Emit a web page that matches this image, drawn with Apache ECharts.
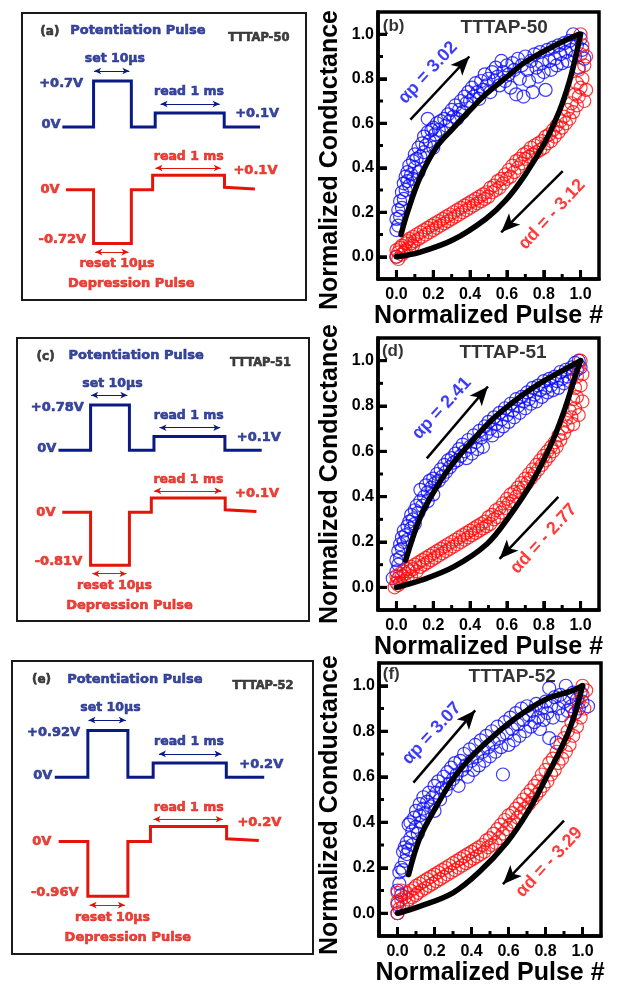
<!DOCTYPE html>
<html><head><meta charset="utf-8">
<script src="https://cdn.jsdelivr.net/npm/echarts@6/dist/echarts.min.js"></script>
<style>html,body{margin:0;padding:0;background:#fff}#c{width:623px;height:987px}</style>
</head><body><div id="c"></div>
<script>
// ---------- tick values ----------
const xTicks=[0,0.2,0.4,0.6,0.8,1.0];
const xMinor=[0.1,0.3,0.5,0.7,0.9];
const yTicks=[0,0.2,0.4,0.6,0.8,1.0];
const yMinor=[0.1,0.3,0.5,0.7,0.9];

// ---------- TTTAP-50 (b) ----------
const potB=[[0,0],[0,0.12],[0,0.17],[0.01,0.14],[0.01,0.21],[0.02,0.18],[0.02,0.25],[0.03,0.22],[0.03,0.29],[0.04,0.26],[0.04,0.33],[0.05,0.30],[0.05,0.36],[0.06,0.34],[0.06,0.38],[0.07,0.32],[0.07,0.41],[0.08,0.37],[0.09,0.43],[0.09,0.35],[0.10,0.40],[0.10,0.46],[0.11,0.44],[0.12,0.49],[0.12,0.38],[0.13,0.45],[0.14,0.51],[0.15,0.47],[0.15,0.54],[0.16,0.50],[0.17,0.62],[0.17,0.56],[0.18,0.52],[0.19,0.57],[0.20,0.49],[0.20,0.58],[0.21,0.55],[0.22,0.60],[0.23,0.57],[0.24,0.61],[0.25,0.56],[0.26,0.62],[0.27,0.59],[0.28,0.64],[0.29,0.61],[0.30,0.66],[0.31,0.63],[0.32,0.68],[0.33,0.62],[0.34,0.66],[0.35,0.70],[0.36,0.65],[0.37,0.72],[0.38,0.69],[0.39,0.74],[0.40,0.70],[0.41,0.76],[0.42,0.72],[0.43,0.78],[0.44,0.74],[0.45,0.71],[0.46,0.79],[0.47,0.75],[0.48,0.82],[0.49,0.77],[0.50,0.80],[0.51,0.74],[0.52,0.83],[0.53,0.79],[0.54,0.85],[0.55,0.81],[0.56,0.77],[0.57,0.88],[0.58,0.83],[0.59,0.79],[0.60,0.86],[0.61,0.82],[0.62,0.76],[0.63,0.87],[0.64,0.84],[0.65,0.73],[0.66,0.89],[0.67,0.80],[0.68,0.86],[0.69,0.72],[0.70,0.90],[0.71,0.84],[0.72,0.79],[0.73,0.88],[0.74,0.74],[0.75,0.91],[0.76,0.85],[0.77,0.81],[0.78,0.92],[0.79,0.87],[0.80,0.83],[0.81,0.75],[0.82,0.93],[0.83,0.88],[0.84,0.84],[0.85,0.94],[0.86,0.89],[0.87,0.86],[0.88,0.95],[0.89,0.91],[0.90,0.87],[0.91,0.96],[0.92,0.92],[0.93,0.88],[0.94,0.97],[0.95,0.93],[0.96,1.00],[0.97,0.90],[0.98,0.95],[0.99,0.85],[1.00,0.98],[1.01,0.93],[1.02,0.89]];
const depB=[[0,0],[0,0.03],[0.01,-0.01],[0.01,0.02],[0.02,0.04],[0.03,0.01],[0.03,0.05],[0.04,0.02],[0.05,0.06],[0.05,0.03],[0.06,0.07],[0.07,0.04],[0.07,0.08],[0.08,0.06],[0.09,0.05],[0.09,0.09],[0.10,0.07],[0.11,0.10],[0.12,0.08],[0.13,0.11],[0.14,0.09],[0.15,0.12],[0.16,0.10],[0.17,0.13],[0.18,0.11],[0.19,0.14],[0.20,0.12],[0.21,0.15],[0.22,0.13],[0.23,0.16],[0.24,0.14],[0.25,0.17],[0.26,0.15],[0.27,0.18],[0.28,0.16],[0.29,0.19],[0.30,0.17],[0.31,0.20],[0.32,0.18],[0.33,0.21],[0.34,0.19],[0.35,0.22],[0.36,0.20],[0.37,0.23],[0.38,0.21],[0.39,0.24],[0.40,0.22],[0.41,0.25],[0.42,0.23],[0.43,0.26],[0.44,0.24],[0.45,0.27],[0.46,0.25],[0.47,0.28],[0.48,0.26],[0.49,0.29],[0.50,0.27],[0.51,0.31],[0.52,0.29],[0.53,0.32],[0.54,0.30],[0.55,0.34],[0.56,0.31],[0.57,0.35],[0.58,0.33],[0.59,0.37],[0.60,0.35],[0.61,0.39],[0.62,0.36],[0.63,0.41],[0.64,0.38],[0.65,0.43],[0.66,0.40],[0.67,0.44],[0.68,0.42],[0.69,0.46],[0.70,0.44],[0.71,0.47],[0.72,0.45],[0.73,0.49],[0.74,0.46],[0.75,0.50],[0.76,0.47],[0.77,0.51],[0.78,0.48],[0.79,0.52],[0.80,0.49],[0.81,0.54],[0.82,0.51],[0.83,0.55],[0.84,0.52],[0.85,0.57],[0.86,0.54],[0.87,0.59],[0.88,0.56],[0.89,0.61],[0.90,0.58],[0.91,0.63],[0.92,0.60],[0.93,0.66],[0.94,0.62],[0.95,0.69],[0.96,0.65],[0.97,0.73],[0.98,0.68],[0.98,0.78],[0.99,0.72],[0.99,0.84],[1.00,0.76],[1.00,0.91],[1.00,1.00],[1.01,0.80],[1.01,0.95],[1.02,0.86],[1.02,0.70],[1.03,0.90],[1.03,0.75]];
const fitPotB=[[0.025,0.10],[0.06,0.20],[0.125,0.35],[0.215,0.49],[0.305,0.575],[0.395,0.655],[0.485,0.73],[0.595,0.805],[0.70,0.875],[0.85,0.945],[0.99,1.0]];
const fitDepB=[[0,0],[0.125,0.02],[0.305,0.075],[0.485,0.17],[0.595,0.255],[0.70,0.37],[0.81,0.52],[0.885,0.655],[0.94,0.79],[0.975,0.905],[1.0,1.0]];

// ---------- TTTAP-51 (d) ----------
const potD=[[-0.02,0.04],[0,0.07],[0,0.12],[0.01,0.10],[0.01,0.16],[0.02,0.13],[0.02,0.19],[0.03,0.17],[0.03,0.22],[0.04,0.20],[0.04,0.25],[0.05,0.23],[0.06,0.27],[0.06,0.21],[0.07,0.29],[0.08,0.26],[0.08,0.32],[0.09,0.30],[0.10,0.34],[0.10,0.28],[0.11,0.36],[0.12,0.33],[0.13,0.38],[0.13,0.43],[0.14,0.36],[0.15,0.40],[0.16,0.45],[0.17,0.42],[0.17,0.38],[0.18,0.47],[0.19,0.44],[0.20,0.48],[0.20,0.41],[0.21,0.46],[0.22,0.50],[0.23,0.47],[0.24,0.52],[0.25,0.49],[0.26,0.54],[0.27,0.51],[0.28,0.56],[0.29,0.53],[0.30,0.57],[0.31,0.55],[0.32,0.59],[0.33,0.56],[0.34,0.61],[0.35,0.58],[0.36,0.63],[0.37,0.60],[0.38,0.57],[0.39,0.65],[0.40,0.62],[0.41,0.59],[0.42,0.67],[0.43,0.64],[0.44,0.61],[0.45,0.69],[0.46,0.66],[0.47,0.62],[0.48,0.71],[0.49,0.68],[0.50,0.73],[0.51,0.70],[0.52,0.67],[0.53,0.75],[0.54,0.72],[0.55,0.69],[0.56,0.77],[0.57,0.74],[0.58,0.71],[0.59,0.79],[0.60,0.76],[0.61,0.73],[0.62,0.81],[0.63,0.78],[0.64,0.75],[0.65,0.83],[0.66,0.80],[0.67,0.77],[0.68,0.84],[0.69,0.82],[0.70,0.79],[0.71,0.86],[0.72,0.83],[0.73,0.81],[0.74,0.88],[0.75,0.85],[0.76,0.82],[0.77,0.89],[0.78,0.87],[0.79,0.84],[0.80,0.91],[0.81,0.88],[0.82,0.86],[0.83,0.92],[0.84,0.89],[0.85,0.87],[0.86,0.93],[0.87,0.91],[0.88,0.88],[0.89,0.95],[0.90,0.92],[0.91,0.90],[0.92,0.96],[0.93,0.93],[0.94,0.91],[0.95,0.97],[0.96,0.94],[0.97,0.99],[0.98,0.96],[0.99,1.00],[1.00,0.97]];
const depD=[[-0.01,0],[0,0.02],[0,0.05],[0.01,0.01],[0.01,0.04],[0.02,0.06],[0.02,0.02],[0.03,0.05],[0.04,0.07],[0.04,0.03],[0.05,0.06],[0.06,0.08],[0.06,0.04],[0.07,0.07],[0.08,0.09],[0.08,0.05],[0.09,0.08],[0.10,0.10],[0.11,0.07],[0.12,0.11],[0.13,0.09],[0.14,0.12],[0.15,0.10],[0.16,0.13],[0.17,0.11],[0.18,0.14],[0.19,0.12],[0.20,0.15],[0.21,0.13],[0.22,0.16],[0.23,0.14],[0.24,0.17],[0.25,0.15],[0.26,0.18],[0.27,0.16],[0.28,0.19],[0.29,0.17],[0.30,0.20],[0.31,0.18],[0.32,0.21],[0.33,0.19],[0.34,0.22],[0.35,0.20],[0.36,0.23],[0.37,0.21],[0.38,0.24],[0.39,0.22],[0.40,0.25],[0.41,0.23],[0.42,0.26],[0.43,0.24],[0.44,0.27],[0.45,0.25],[0.46,0.28],[0.47,0.26],[0.48,0.29],[0.49,0.27],[0.50,0.31],[0.51,0.28],[0.52,0.32],[0.53,0.30],[0.54,0.34],[0.55,0.31],[0.56,0.35],[0.57,0.33],[0.58,0.37],[0.59,0.35],[0.60,0.39],[0.61,0.37],[0.62,0.41],[0.63,0.38],[0.64,0.42],[0.65,0.40],[0.66,0.44],[0.67,0.42],[0.68,0.46],[0.69,0.44],[0.70,0.48],[0.71,0.46],[0.72,0.50],[0.73,0.48],[0.74,0.52],[0.75,0.50],[0.76,0.54],[0.77,0.52],[0.78,0.56],[0.79,0.54],[0.80,0.58],[0.81,0.56],[0.82,0.60],[0.83,0.58],[0.84,0.62],[0.85,0.60],[0.86,0.64],[0.87,0.62],[0.88,0.67],[0.89,0.65],[0.90,0.70],[0.91,0.68],[0.92,0.74],[0.93,0.71],[0.94,0.78],[0.95,0.75],[0.96,0.83],[0.96,0.72],[0.97,0.88],[0.97,0.79],[0.98,0.93],[0.98,0.84],[0.99,0.97],[0.99,0.76],[1.00,1.00],[1.00,0.89],[1.01,0.94],[1.01,0.82]];
const fitPotD=[[0.05,0.12],[0.13,0.31],[0.22,0.445],[0.31,0.55],[0.40,0.635],[0.52,0.74],[0.67,0.84],[0.81,0.915],[0.955,0.98],[1.0,1.0]];
const fitDepD=[[0,0],[0.13,0.03],[0.31,0.09],[0.49,0.19],[0.61,0.31],[0.74,0.47],[0.85,0.65],[0.92,0.80],[0.97,0.93],[1.0,1.0]];

// ---------- TTTAP-52 (f) ----------
const potF=[[0,0],[0,0.04],[0,0.10],[0.01,0.18],[0.01,0.13],[0.02,0.20],[0.02,0.08],[0.03,0.27],[0.03,0.19],[0.04,0.29],[0.04,0.23],[0.05,0.31],[0.05,0.26],[0.06,0.39],[0.06,0.28],[0.07,0.33],[0.07,0.40],[0.08,0.36],[0.08,0.30],[0.09,0.42],[0.10,0.38],[0.10,0.45],[0.11,0.35],[0.12,0.43],[0.12,0.48],[0.13,0.40],[0.14,0.46],[0.14,0.51],[0.15,0.44],[0.16,0.49],[0.17,0.53],[0.18,0.47],[0.19,0.51],[0.20,0.56],[0.20,0.45],[0.21,0.53],[0.22,0.58],[0.23,0.50],[0.24,0.55],[0.25,0.60],[0.26,0.54],[0.27,0.62],[0.28,0.57],[0.29,0.64],[0.30,0.59],[0.31,0.66],[0.32,0.61],[0.33,0.56],[0.34,0.67],[0.35,0.63],[0.36,0.70],[0.37,0.65],[0.38,0.60],[0.39,0.72],[0.40,0.67],[0.41,0.63],[0.42,0.74],[0.43,0.69],[0.44,0.65],[0.45,0.76],[0.46,0.71],[0.47,0.67],[0.48,0.78],[0.49,0.73],[0.50,0.69],[0.51,0.80],[0.52,0.75],[0.53,0.71],[0.54,0.82],[0.55,0.77],[0.56,0.73],[0.57,0.61],[0.58,0.84],[0.59,0.79],[0.60,0.74],[0.61,0.86],[0.62,0.81],[0.63,0.76],[0.64,0.88],[0.65,0.83],[0.66,0.78],[0.67,0.90],[0.68,0.85],[0.69,0.80],[0.70,0.91],[0.71,0.87],[0.72,0.82],[0.73,0.89],[0.74,0.84],[0.75,0.92],[0.76,0.86],[0.77,0.81],[0.78,0.90],[0.79,0.85],[0.80,0.93],[0.81,0.88],[0.82,0.99],[0.82,0.77],[0.83,0.91],[0.84,0.86],[0.85,0.95],[0.86,0.75],[0.87,0.90],[0.88,0.96],[0.89,0.87],[0.90,0.93],[0.91,1.00],[0.92,0.89],[0.93,0.95],[0.94,0.91],[0.95,0.97],[0.96,0.88],[0.97,0.94],[0.98,0.90],[0.99,0.97],[1.00,0.93],[1.03,0.91]];
const depF=[[0,0],[0,0.05],[0,0.09],[0.01,0.02],[0.02,0.06],[0.02,0.10],[0.03,0.03],[0.04,0.07],[0.05,0.04],[0.05,0.09],[0.06,0.06],[0.07,0.10],[0.08,0.07],[0.09,0.11],[0.10,0.08],[0.10,0.12],[0.11,0.09],[0.12,0.13],[0.13,0.10],[0.14,0.14],[0.15,0.11],[0.16,0.15],[0.17,0.12],[0.18,0.16],[0.19,0.13],[0.20,0.17],[0.21,0.14],[0.22,0.18],[0.23,0.15],[0.24,0.19],[0.25,0.16],[0.26,0.20],[0.27,0.17],[0.28,0.21],[0.29,0.18],[0.30,0.22],[0.31,0.19],[0.32,0.23],[0.33,0.20],[0.34,0.24],[0.35,0.21],[0.36,0.25],[0.37,0.22],[0.38,0.26],[0.39,0.23],[0.40,0.27],[0.41,0.24],[0.42,0.28],[0.43,0.25],[0.44,0.29],[0.45,0.26],[0.46,0.30],[0.47,0.27],[0.48,0.32],[0.49,0.29],[0.50,0.33],[0.51,0.30],[0.52,0.35],[0.53,0.31],[0.54,0.37],[0.55,0.33],[0.56,0.39],[0.57,0.35],[0.58,0.41],[0.59,0.37],[0.60,0.43],[0.61,0.39],[0.62,0.44],[0.63,0.40],[0.64,0.46],[0.65,0.42],[0.66,0.48],[0.67,0.44],[0.68,0.50],[0.69,0.46],[0.70,0.52],[0.71,0.48],[0.72,0.54],[0.73,0.50],[0.74,0.56],[0.75,0.52],[0.76,0.58],[0.77,0.54],[0.78,0.61],[0.79,0.56],[0.80,0.63],[0.81,0.58],[0.82,0.66],[0.83,0.61],[0.84,0.68],[0.85,0.63],[0.86,0.71],[0.87,0.66],[0.88,0.74],[0.89,0.68],[0.90,0.77],[0.91,0.71],[0.92,0.80],[0.93,0.74],[0.94,0.84],[0.95,0.78],[0.96,0.88],[0.97,0.82],[0.98,0.93],[0.99,0.86],[1.00,1.00],[1.00,0.96],[1.01,0.90],[1.02,0.98]];
const fitPotF=[[0.06,0.17],[0.12,0.33],[0.21,0.47],[0.30,0.59],[0.39,0.68],[0.52,0.78],[0.66,0.87],[0.80,0.94],[0.95,0.98],[1.0,1.0]];
const fitDepF=[[0,0],[0.12,0.03],[0.30,0.09],[0.44,0.18],[0.59,0.31],[0.70,0.44],[0.80,0.59],[0.91,0.77],[0.96,0.88],[1.0,1.0]];

// ---------- text ----------
const panelLetters=['(b)','(d)','(f)'];
const sampleNames=['TTTAP-50','TTTAP-51','TTTAP-52'];
const alphaP=['αp = 3.02','αp = 2.41','αp = 3.07'];
const alphaD=['αd = - 3.12','αd = - 2.77','αd = - 3.29'];
const diagLetters=['(a)','(c)','(e)'];
const setVolt=['+0.7V','+0.78V','+0.92V'];
const resetVolt=['-0.72V','-0.81V','-0.96V'];
const readVolt=['+0.1V','+0.1V','+0.2V'];

// ---------- schematic pulse shapes (box units 0-100) ----------
const potPulse=[[14.2,39.7],[25.2,39.7],[25.2,23.7],[38.5,23.7],[38.5,39.7],[46.9,39.7],[46.9,34.8],[71.2,34.8],[71.2,39.7],[83.8,39.7]];
const depPulse=[[15.5,61.6],[25.2,61.6],[25.2,80.3],[38.5,80.3],[38.5,61.6],[46.0,61.6],[46.0,56.5],[71.3,56.5],[71.3,60.7],[82.0,61.3]];

// ---------- layout ----------
const plotLayout=[
 {grid:{left:378,top:12,width:221,height:267}, nameGap:22, yTitle:160,
  letter:[-0.015,1.035], nm:[0.585,1.03], ap:[0.172,0.827], ad:[0.845,0.19],
  arP:[[0.076,0.616],[0.396,0.90]], arD:[[0.903,0.385],[0.569,0.110]]},
 {grid:{left:378,top:338,width:221,height:272}, nameGap:21, yTitle:474,
  letter:[-0.02,1.04], nm:[0.579,1.035], ap:[0.246,0.79], ad:[0.80,0.214],
  arP:[[0.165,0.569],[0.497,0.886]], arD:[[0.879,0.399],[0.56,0.126]]},
 {grid:{left:379,top:663,width:222,height:273}, nameGap:22, yTitle:805,
  letter:[-0.034,1.05], nm:[0.62,1.041], ap:[0.185,0.79], ad:[0.82,0.224],
  arP:[[0.086,0.574],[0.42,0.892]], arD:[[0.90,0.407],[0.57,0.128]]}
];
const diagLayout=[
 {left:22,top:13,width:284,height:287},
 {left:17,top:338,width:292,height:283},
 {left:12,top:661,width:301,height:293}
];
const NAVY='#0a1a85', DRED='#e3150a', BLUE='#0a0aff', RED='#ff0a0a';
const MAJOR_LEN=9, MINOR_LEN=5;

const plotData=[[potB,depB,fitPotB,fitDepB],[potD,depD,fitPotD,fitDepD],[potF,depF,fitPotF,fitDepF]];

const grids=[],xAxes=[],yAxes=[],series=[],graphic=[];
const fmt=v=>v.toFixed(1);
const FF='"Liberation Sans", Arial, sans-serif';
const DF='"DejaVu Sans", Verdana, sans-serif';
const axl=()=>({show:true,onZero:false,lineStyle:{color:'#000',width:3.5}});
const tk=(vals)=>({show:true,inside:true,length:MAJOR_LEN,customValues:vals,lineStyle:{color:'#000',width:3}});

plotLayout.forEach((L,i)=>{
  const [pot,dep,fp,fd]=plotData[i];
  grids.push(Object.assign({show:true,borderColor:'#000',borderWidth:3.5},L.grid));
  xAxes.push({type:'value',gridIndex:i,min:-0.1,max:1.1,position:'bottom',splitLine:{show:false},axisLine:axl(),
    axisTick:tk(xTicks),
    axisLabel:{show:true,customValues:xTicks,formatter:fmt,fontSize:16,fontWeight:'bold',color:'#000',margin:8,fontFamily:FF},
    name:'Normalized Pulse #',nameLocation:'middle',nameGap:L.nameGap,
    nameTextStyle:{fontSize:25,fontWeight:'bold',color:'#000',fontFamily:FF}});
  yAxes.push({type:'value',gridIndex:i,min:-0.1,max:1.1,position:'left',splitLine:{show:false},axisLine:axl(),
    axisTick:tk(yTicks),
    axisLabel:{show:true,customValues:yTicks,formatter:fmt,fontSize:16,fontWeight:'bold',color:'#000',margin:4,fontFamily:FF}});
  const sc=(d,c,z)=>({type:'scatter',xAxisIndex:i,yAxisIndex:i,data:d,symbol:'circle',symbolSize:13,z:z,clip:false,
    itemStyle:{color:'rgba(255,255,255,0)',borderColor:c,borderWidth:1.2},silent:true});
  series.push(sc(pot,BLUE,2));
  series.push(sc(dep,RED,3));
  const fit=d=>({type:'line',xAxisIndex:i,yAxisIndex:i,data:d,smooth:0.35,showSymbol:false,z:5,silent:true,
    lineStyle:{color:'#000',width:5.5,cap:'round'}});
  series.push(fit(fp));
  series.push(fit(fd));
  series.push({type:'line',xAxisIndex:i,yAxisIndex:i,data:[],z:6,silent:true,
    markLine:{silent:true,symbol:['none','arrow'],symbolSize:[12,19],animation:false,
      lineStyle:{color:'#000',width:2.5,type:'solid'},label:{show:false},emphasis:{disabled:true},
      data:[[{coord:L.arP[0]},{coord:L.arP[1]}],[{coord:L.arD[0]},{coord:L.arD[1]}]]}});
  const lab=(name,pos,color,size,rot)=>({name:name,value:pos,
    label:{show:true,position:'inside',formatter:'{b}',color:color,fontSize:size,fontWeight:'bold',fontFamily:FF,rotate:rot||0}});
  series.push({type:'scatter',xAxisIndex:i,yAxisIndex:i,symbolSize:1,itemStyle:{color:'rgba(0,0,0,0)'},z:7,silent:true,clip:false,
    data:[lab(panelLetters[i],L.letter,'#000',17),lab(sampleNames[i],L.nm,'#000',19),
      lab(alphaP[i],L.ap,BLUE,18,47),lab(alphaD[i],L.ad,RED,18,47)]});
  graphic.push({type:'text',x:330,y:L.yTitle,rotation:Math.PI/2,silent:true,
    style:{text:'Normalized Conductance',fill:'#000',font:'bold 25px '+FF,align:'center',verticalAlign:'middle',textAlign:'center',textVerticalAlign:'middle'}});
});

diagLayout.forEach((g,d)=>{
  const ai=3+d;
  grids.push(Object.assign({show:true,borderColor:'#1a1a1a',borderWidth:2},g));
  xAxes.push({type:'value',gridIndex:ai,min:0,max:100,show:false});
  yAxes.push({type:'value',gridIndex:ai,min:0,max:100,inverse:true,show:false});
  const arrows=(c,list)=>({silent:true,symbol:['arrow','arrow'],symbolSize:[5,7],animation:false,
    lineStyle:{color:c,width:1.2,type:'solid'},label:{show:false},emphasis:{disabled:true},
    data:list.map(a=>[{coord:[a[0],a[2]]},{coord:[a[1],a[2]]}])});
  series.push({type:'line',xAxisIndex:ai,yAxisIndex:ai,data:potPulse,showSymbol:false,silent:true,
    lineStyle:{color:NAVY,width:3,join:'miter'},markLine:arrows(NAVY,[[25.4,37.8,20.2],[48.8,69.6,31.7]])});
  series.push({type:'line',xAxisIndex:ai,yAxisIndex:ai,data:depPulse,showSymbol:false,silent:true,
    lineStyle:{color:DRED,width:3,join:'miter'},markLine:arrows(DRED,[[25.8,37.5,83.3],[47.0,70.0,54.0]])});
  const t=(name,x,y,color,size)=>({name:name,value:[x,y],
    label:{show:true,position:'inside',formatter:'{b}',color:color,fontSize:size,fontWeight:'bold',fontFamily:DF,
      textBorderColor:color,textBorderWidth:0.6}});
  series.push({type:'scatter',xAxisIndex:ai,yAxisIndex:ai,symbolSize:1,itemStyle:{color:'rgba(0,0,0,0)'},silent:true,clip:false,z:4,
    data:[
      t(diagLetters[d],9.8,6.6,'#111',12),
      t('Potentiation Pulse',40.8,6.3,NAVY,13),
      t(sampleNames[d],83.4,8.7,'#111',11.5),
      t('set 10μs',32.7,16.0,NAVY,12.5),
      t(setVolt[d],13.8,24.5,NAVY,13),
      t('0V',10.2,39.0,NAVY,13),
      t('read 1 ms',58.8,27.5,NAVY,12.5),
      t(readVolt[d],82.8,35.2,NAVY,13),
      t('0V',9.9,61.7,DRED,13),
      t(resetVolt[d],14.2,79.0,DRED,13),
      t('reset 10μs',33.4,87.5,DRED,12.5),
      t('read 1 ms',58.7,50.2,DRED,12.5),
      t(readVolt[d],82.2,55.0,DRED,13),
      t('Depression Pulse',38.5,94.4,DRED,13)
    ]});
});

const chart=echarts.init(document.getElementById('c'),null,{renderer:'canvas'});
chart.setOption({animation:false,backgroundColor:'#fff',textStyle:{fontFamily:FF},
  grid:grids,xAxis:xAxes,yAxis:yAxes,series:series,graphic:graphic});

// inward ticks placed through each plot's own axis scale (convertToPixel)
const tickEls=[];
plotLayout.forEach((L,i)=>{
  const g=L.grid, bottom=g.top+g.height, left=g.left;
  const addX=(vals,len)=>vals.forEach(v=>{
    const px=chart.convertToPixel({xAxisIndex:i},v);
    tickEls.push({type:'line',silent:true,z:10,shape:{x1:px,y1:bottom,x2:px,y2:bottom-len},style:{stroke:'#000',lineWidth:3}});
  });
  const addY=(vals,len)=>vals.forEach(v=>{
    const py=chart.convertToPixel({yAxisIndex:i},v);
    tickEls.push({type:'line',silent:true,z:10,shape:{x1:left,y1:py,x2:left+len,y2:py},style:{stroke:'#000',lineWidth:3}});
  });
  addX(xTicks,MAJOR_LEN); addX(xMinor,MINOR_LEN);
  addY(yTicks,MAJOR_LEN); addY(yMinor,MINOR_LEN);
});
chart.setOption({graphic:graphic.concat(tickEls)});
</script></body></html>
